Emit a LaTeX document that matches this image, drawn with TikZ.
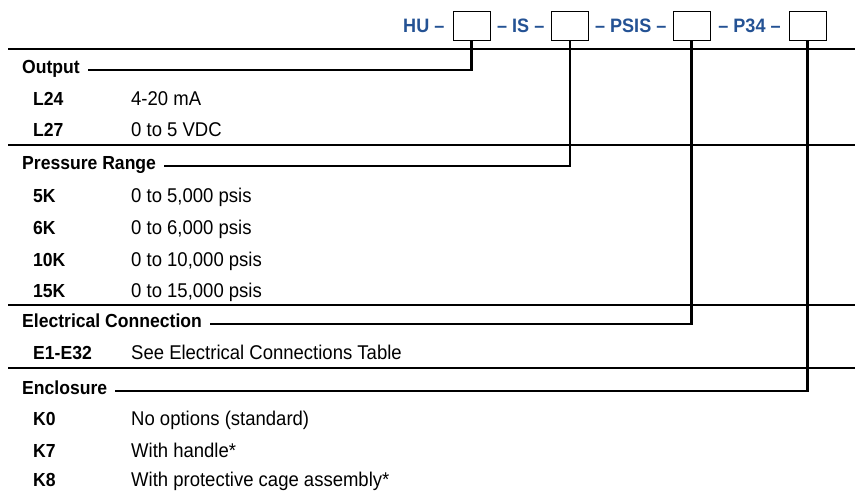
\documentclass[tikz,border=0pt]{standalone}
\usepackage{fontspec}
\setmainfont{Liberation Sans}[FakeStretch=0.93]
\usetikzlibrary{positioning,calc}
\definecolor{partblue}{RGB}{36,82,148}

\begin{document}
\begin{tikzpicture}[x=1pt, y=-1pt, node distance=8pt, every node/.style={inner sep=0pt, anchor=base west},
  part/.style={font=\fontsize{19.4}{21}\selectfont\bfseries, text=partblue, anchor=center},
  slot/.style={draw, line width=0.9pt, minimum width=37pt, minimum height=29pt, anchor=center},
  heading/.style={font=\fontsize{18.9}{21}\selectfont\bfseries},
  code/.style={font=\fontsize{18.9}{21}\selectfont\bfseries},
  desc/.style={font=\fontsize{19.9}{21}\selectfont},
  rule/.style={line width=1.1pt},
  lead/.style={line width=2.2pt}]
\useasboundingbox (0,0) rectangle (855,494);

% part number
\node[slot] (slot1) at (471.5,25.5) {};
\node[slot] (slot2) at (570,25.5) {};
\node[slot] (slot3) at (691.5,25.5) {};
\node[slot] (slot4) at (807.5,25.5) {};
\node[part, left=8pt of slot1] (hu) {HU –};
\node[part] (is) at ($(slot1.east)!0.5!(slot2.west)$) {– IS –};
\node[part] (psis) at ($(slot2.east)!0.5!(slot3.west)$) {– PSIS –};
\node[part] (p34) at ($(slot3.east)!0.5!(slot4.west)$) {– P34 –};

% separators
\draw[rule] (8,49) -- (855,49);
\draw[rule] (8,145) -- (855,145);
\draw[rule] (8,305) -- (855,305);
\draw[rule] (8,368) -- (855,368);

% output
\node[heading] (output) at (22,74) {Output};
\node[code] (l24) at (33,106) {L24};
\node[desc] (l24d) at (131,106) {4-20 mA};
\node[code] (l27) at (33,137) {L27};
\node[desc] (l27d) at (131,137) {0 to 5 VDC};

% pressure range
\node[heading] (range) at (22,170) {Pressure Range};
\node[code] (k5) at (33,203) {5K};
\node[desc] (k5d) at (131,203) {0 to 5,000 psis};
\node[code] (k6) at (33,235) {6K};
\node[desc] (k6d) at (131,235) {0 to 6,000 psis};
\node[code] (k10) at (33,267) {10K};
\node[desc] (k10d) at (131,267) {0 to 10,000 psis};
\node[code] (k15) at (33,298) {15K};
\node[desc] (k15d) at (131,298) {0 to 15,000 psis};

% electrical connection
\node[heading] (elec) at (22,328) {Electrical Connection};
\node[code] (e1) at (33,360) {E1-E32};
\node[desc] (e1d) at (131,360) {See Electrical Connections Table};

% enclosure
\node[heading] (encl) at (22,395) {Enclosure};
\node[code] (opt0) at (33,426) {K0};
\node[desc] (opt0d) at (131,426) {No options (standard)};
\node[code] (opt7) at (33,457) {K7};
\node[desc] (opt7d) at (131,457) {With handle*};
\node[code] (opt8) at (33,487) {K8};
\node[desc] (opt8d) at (131,487) {With protective cage assembly*};

% leads from the slots
\draw[lead] (slot1.south) |- ([xshift=8pt,yshift=1pt]output.mid east);
\draw[lead] (slot2.south) |- ([xshift=8pt,yshift=1pt]range.mid east);
\draw[lead] (slot3.south) |- ([xshift=8pt,yshift=1pt]elec.mid east);
\draw[lead] (slot4.south) |- ([xshift=8pt,yshift=1pt]encl.mid east);
\end{tikzpicture}
\end{document}
